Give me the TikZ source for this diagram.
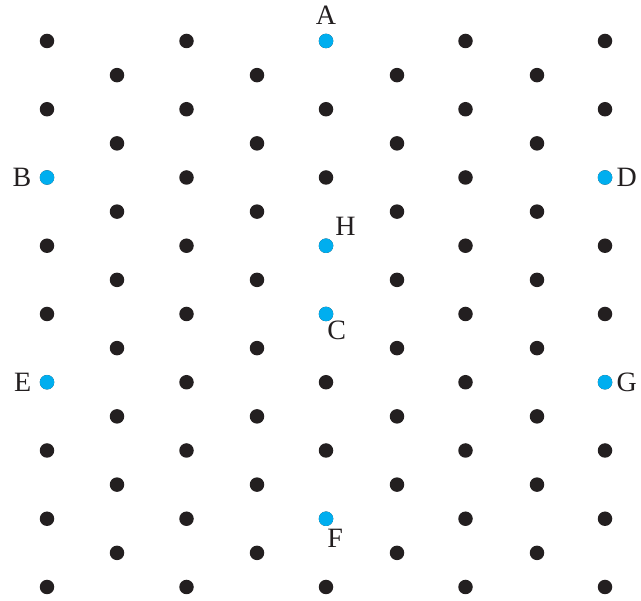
\documentclass[tikz,border=0pt]{standalone}
\usepackage{fontspec}
\setmainfont{Liberation Serif}
\usepackage{tikz}
\usetikzlibrary{positioning}
\definecolor{dotblack}{HTML}{231F20}
\definecolor{dotblue}{HTML}{00AEEF}

\begin{document}
\begin{tikzpicture}[
  x=1pt, y=-1pt,
  dot/.style={circle, inner sep=0pt, minimum size=14.5pt, fill=#1},
  dot/.default=dotblack,
  lbl/.style={font=\fontsize{28}{28}\selectfont, text=dotblack, inner sep=0pt},
]
  \useasboundingbox (0,0) rectangle (641,601);

  % lattice: long rows (5 dots) and short rows (4 dots)
  \foreach \r in {0,2,...,16}
    \foreach \c in {0,...,4}
      \node[dot] (p\r-\c) at ({47+139.5*\c},{41+34.125*\r}) {};
  \foreach \r in {1,3,...,15}
    \foreach \c in {0,...,3}
      \node[dot] (p\r-\c) at ({117+140*\c},{41+34.125*\r}) {};

  % marked points
  \node[dot=dotblue] (A) at (p0-2) {};
  \node[dot=dotblue] (B) at (p4-0) {};
  \node[dot=dotblue] (D) at (p4-4) {};
  \node[dot=dotblue] (H) at (p6-2) {};
  \node[dot=dotblue] (C) at (p8-2) {};
  \node[dot=dotblue] (E) at (p10-0) {};
  \node[dot=dotblue] (G) at (p10-4) {};
  \node[dot=dotblue] (F) at (p14-2) {};

  \node[lbl, above=9pt of A] (lA) {A};
  \node[lbl, left=8pt of B] (lB) {B};
  \node[lbl, right=4pt of D] (lD) {D};
  \node[lbl, above right=5pt and 4pt of H] (lH) {H};
  \node[lbl, below right=1pt and -4pt of C] (lC) {C};
  \node[lbl, below right=5pt and -4pt of F] (lF) {F};
  \node[lbl, left=8pt of E] (lE) {E};
  \node[lbl, right=4pt of G] (lG) {G};
\end{tikzpicture}
\end{document}
